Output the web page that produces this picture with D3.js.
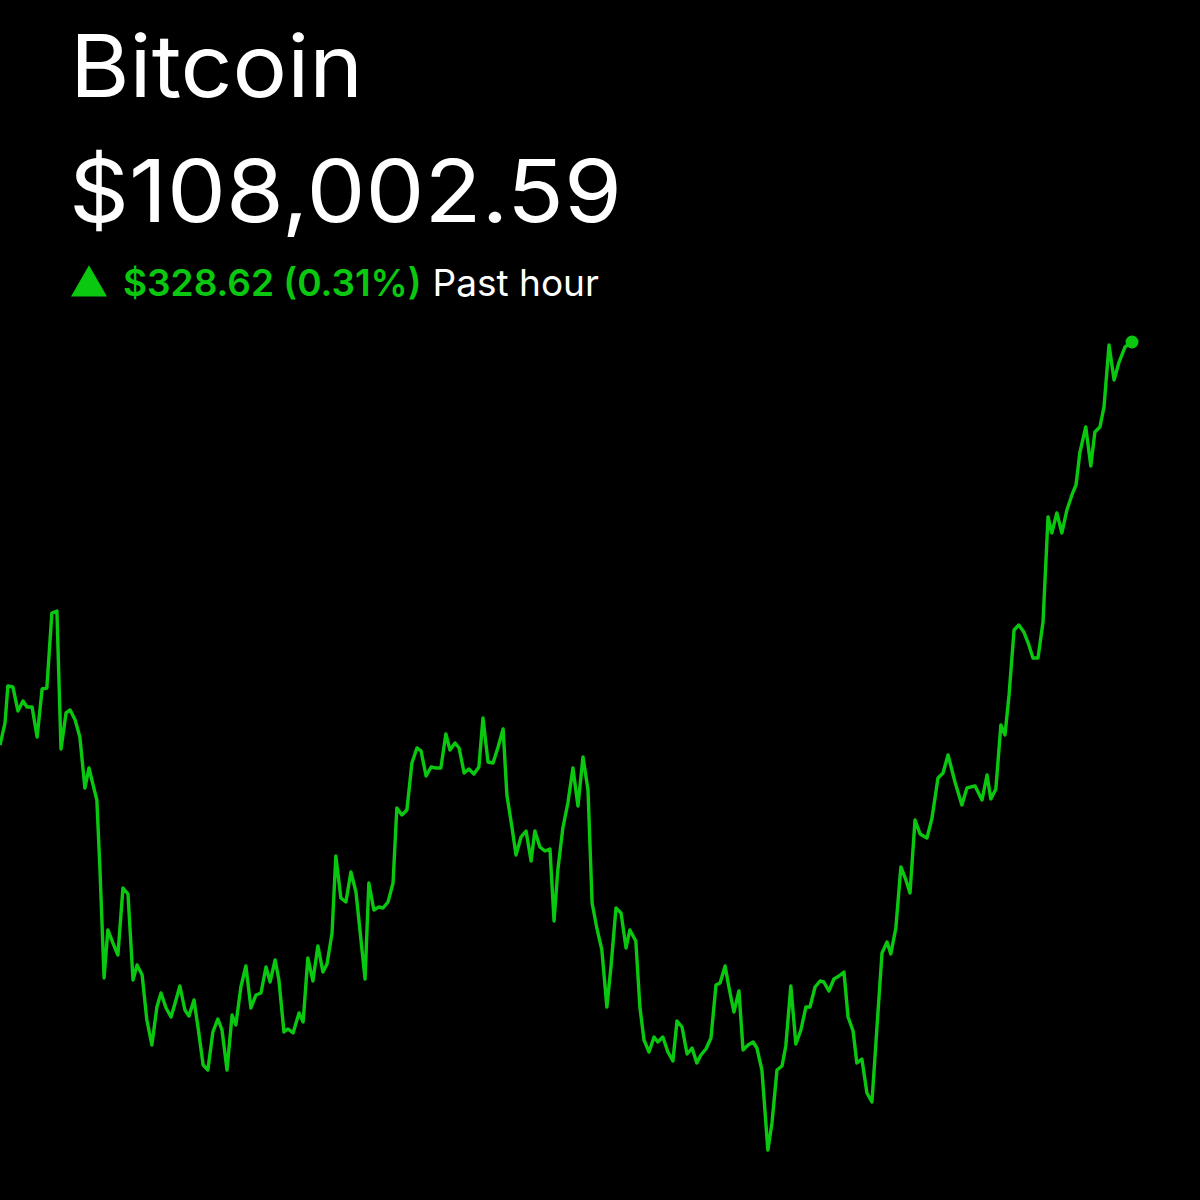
<!DOCTYPE html>
<html>
<head>
<meta charset="utf-8">
<script src="https://cdn.jsdelivr.net/npm/d3@7"></script>
<style>
  html, body { margin: 0; padding: 0; background: #000; }
  svg { display: block; }
</style>
</head>
<body>
<svg id="svg1" width="1200" height="1200"></svg>
<script>
// header texts
const assetName = "Bitcoin";
const lastPrice = "$108,002.59";
const changeText = "$328.62 (0.31%)";
const periodText = "Past hour";

// seconds into the past hour
const seconds = [0,16,25,41,57,73,86,102,118,134,149,165,181,194,210,223,239,254,270,283,296,308,318,331,343,359,375,391,407,423,436,452,467,483,499,512,528,544,557,572,588,601,617,630,646,661,677,693,706,722,738,750,766,782,798,814,830,846,859,875,887,903,916,932,951,964,979,995,1011,1027,1040,1056,1068,1084,1100,1116,1132,1161,1173,1189,1205,1218,1234,1250,1262,1278,1294,1310,1326,1339,1355,1371,1386,1402,1418,1431,1447,1460,1476,1491,1507,1523,1536,1552,1568,1584,1600,1612,1628,1641,1657,1673,1689,1701,1717,1733,1749,1762,1774,1790,1806,1822,1838,1854,1870,1883,1898,1914,1930,1943,1959,1975,1991,2003,2022,2035,2048,2064,2080,2092,2108,2124,2140,2153,2169,2185,2201,2216,2229,2245,2261,2277,2290,2306,2318,2334,2350,2363,2379,2395,2407,2423,2442,2455,2471,2487,2499,2515,2531,2547,2563,2576,2592,2608,2620,2636,2652,2668,2684,2697,2713,2725,2741,2757,2773,2789,2805,2821,2833,2849,2865,2881,2894,2910,2926,2948,2964,2983,2999,3015,3037,3059,3075,3101,3123,3139,3151,3167,3183,3196,3209,3225,3240,3256,3272,3285,3301,3317,3333,3345,3361,3377,3393,3409,3422,3434,3453,3469,3482,3498,3511,3527,3543,3558,3578,3600];

// price in USD at each time
const prices = [107673.97,107691.97,107722.14,107721.32,107701.75,107709.90,107705.01,107705.01,107680.55,107719.69,107720.50,107781.66,107783.29,107670.77,107700.12,107702.57,107694.41,107680.55,107638.96,107655.27,107641.41,107629.18,107572.10,107484.04,107523.18,107512.58,107502.79,107557.42,107552.53,107482.41,107494.64,107486.48,107449.79,107429.41,107460.39,107471.81,107459.58,107452.24,107463.65,107477.52,107457.95,107453.05,107466.10,107443.27,107413.10,107409.02,107440.01,107450.61,107441.64,107409.02,107453.87,107445.71,107476.70,107493.82,107459.58,107470.18,107471.81,107493.01,107480.78,107498.72,107482.41,107440.01,107442.45,107439.19,107455.50,107448.16,107500.35,107481.59,107510.13,107488.93,107495.45,107520.73,107583.52,107549.27,107546.01,107570.47,107554.16,107483.22,107561.50,107539.49,107541.93,107541.12,107546.01,107561.50,107622.66,107616.95,107621.03,107659.35,107671.58,107669.13,107648.75,107656.09,107655.27,107655.27,107683.00,107669.95,107675.66,107671.58,107651.20,107654.46,107650.38,107656.09,107696.04,107660.17,107659.35,107672.40,107687.07,107633.26,107607.16,107584.33,107599.01,107603.90,107579.44,107603.90,107590.86,107587.59,107589.23,107530.52,107572.10,107606.35,107626.73,107655.27,107624.29,107664.24,107637.33,107545.19,107524.81,107506.87,107460.39,107493.01,107541.12,107537.04,107508.50,107523.18,107514.21,107460.39,107433.48,107423.70,107435.93,107431.85,107435.93,107423.70,107416.36,107448.98,107444.08,107422.07,107426.96,107414.73,107421.25,107426.15,107435.11,107478.33,107479.96,107493.82,107476.70,107456.32,107473.44,107425.33,107429.41,107431.85,107426.96,107409.02,107343.79,107365.81,107409.02,107412.28,107428.59,107477.52,107430.22,107441.64,107460.39,107460.39,107476.70,107481.59,107480.78,107473.44,107483.22,107485.67,107488.93,107452.24,107440.82,107414.73,107417.99,107390.27,107382.93,107444.08,107504.42,107513.39,107503.61,107524.81,107574.55,107563.95,107553.35,107612.87,107601.46,107598.19,107614.50,107647.12,107651.20,107665.87,107643.86,107625.10,107638.96,107640.60,107629.18,107649.56,107630.00,107638.15,107690.33,107682.18,107714.80,107767.80,107771.87,107766.17,107755.57,107744.97,107744.97,107774.32,107859.94,107846.89,107863.20,107846.89,107865.65,107877.88,107886.03,107912.12,107933.32,107901.52,107929.25,107933.32,107949.63,108000.19,107971.65,107985.51,107998.56,108002.59];

const svg = d3.select('#svg1');
const width = 1200, height = 1200;
const green = "#0ac80f";
const font = "Inter, 'Liberation Sans', Arial, sans-serif";

svg.append("rect").attr("width", width).attr("height", height).attr("fill", "#000");

// header (wide display face, stretched to the reference width)
svg.append("text")
  .attr("x", 70).attr("y", 97)
  .attr("fill", "#fff")
  .attr("textLength", 293)
  .attr("lengthAdjust", "spacingAndGlyphs")
  .style("font-family", font).style("font-size", "86px")
  .text(assetName);

svg.append("text")
  .attr("x", 69).attr("y", 222)
  .attr("fill", "#fff")
  .attr("textLength", 553)
  .attr("lengthAdjust", "spacingAndGlyphs")
  .style("font-family", font).style("font-size", "86px")
  .text(lastPrice);

// up triangle
svg.append("path")
  .attr("d", d3.symbol().type(d3.symbolTriangle).size(560)())
  .attr("transform", "translate(89,286)")
  .attr("fill", green);

const sub = svg.append("text")
  .attr("x", 123).attr("y", 296)
  .style("font-family", font).style("font-size", "37px");
sub.append("tspan").attr("fill", green).style("font-weight", "600").text(changeText);
sub.append("tspan").attr("fill", "#fff").attr("dx", 11).text(periodText);

// scales
const data = seconds.map((s, i) => ({ t: s, p: prices[i] }));
const xScale = d3.scaleLinear().domain([0, 3600]).range([0, 1132]);
const yScale = d3.scaleLinear().domain(d3.extent(prices)).range([1150, 342]);

const line = d3.line()
  .x(d => xScale(d.t))
  .y(d => yScale(d.p));

svg.append("path")
  .datum(data)
  .attr("d", line)
  .attr("fill", "none")
  .attr("stroke", green)
  .attr("stroke-width", 3.4)
  .attr("stroke-linejoin", "round");

// last point marker
const last = data[data.length - 1];
svg.append("circle")
  .attr("cx", xScale(last.t))
  .attr("cy", yScale(last.p))
  .attr("r", 6.5)
  .attr("fill", green);
</script>
</body>
</html>
